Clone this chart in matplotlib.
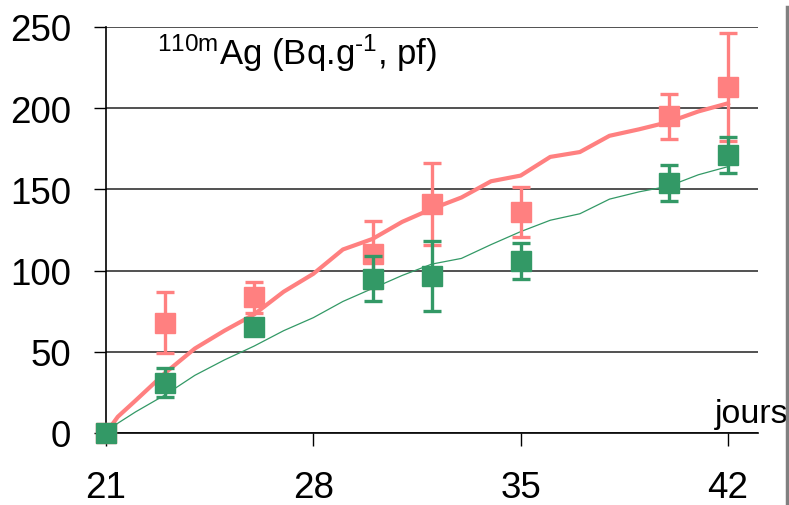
import matplotlib
matplotlib.use("Agg")
import matplotlib.pyplot as plt
from matplotlib.lines import Line2D

plt.rcParams['font.family'] = ['Liberation Sans', 'DejaVu Sans']
plt.rcParams['mathtext.default'] = 'regular'

# mesures (moyenne +/- ecart)
jours_mesure = [21, 23, 26, 30, 32, 35, 40, 42]
ag_rose = [0, 68, 83.5, 110, 141, 136, 195, 213]
err_rose = [0, 19, 9.7, 20.5, 25, 15.5, 14, 33]
ag_vert = [0, 31, 65, 95, 96.5, 106, 154, 171]
err_vert = [0, 9, 4, 14, 21.5, 11, 11, 11]

# courbes du modele
jours_modele = [21, 21.4, 22, 23, 24, 25, 26, 27, 28, 29, 30, 31, 32, 33, 34,
                35, 36, 37, 38, 39, 40, 41, 42]
modele_rose = [0, 10, 20, 37, 52, 63, 73, 87, 98, 113, 119.5, 130, 138, 145,
               155, 158.5, 170, 173, 183, 187, 191.5, 198, 203]
modele_vert = [0, 6, 13, 23.5, 35.5, 45, 53.5, 63, 71, 81, 89, 97, 104, 107.5,
               116, 124, 131, 135, 144, 148.5, 152, 159, 164]

rose = '#FF8080'
vert = '#339966'

fig = plt.figure(figsize=(7.89, 5.06), dpi=100)
ax = fig.add_axes([0.1343, 0.1423, 0.8259, 0.8024])

ax.plot(jours_modele, modele_vert, color=vert, lw=0.9, zorder=3)
ax.plot(jours_modele, modele_rose, color=rose, lw=3, zorder=4)

ax.errorbar(jours_mesure, ag_rose, yerr=err_rose, fmt='s', color=rose,
            ms=14, elinewidth=2.4, capsize=6.5, capthick=2.4,
            clip_on=False, zorder=5)
ax.errorbar(jours_mesure, ag_vert, yerr=err_vert, fmt='s', color=vert,
            ms=14, elinewidth=2.4, capsize=6.5, capthick=2.4,
            clip_on=False, zorder=6)

ax.set_xlim(21, 43)
ax.set_ylim(0, 250)
ax.set_xticks([21, 28, 35, 42])
ax.set_yticks([0, 50, 100, 150, 200, 250])
ax.tick_params(axis='both', direction='out', length=9, width=1,
               labelsize=26.5, color='black')
ax.tick_params(axis='x', pad=18)
ax.tick_params(axis='y', pad=16)

ax.yaxis.grid(True, color='#333333', lw=1.2)
ax.set_axisbelow(True)
for side in ['top', 'right']:
    ax.spines[side].set_visible(False)
for side in ['left', 'bottom']:
    ax.spines[side].set_linewidth(1.2)
    ax.spines[side].set_color('black')

ax.text(0.078, 0.909, '$^{110m}$Ag (Bq.g$^{\u20101}$, pf)', transform=ax.transAxes,
        fontsize=25, ha='left', va='baseline')
ax.text(41.56, 6.8, 'jours', fontsize=24.5, ha='left', va='baseline',
        clip_on=False)

# bord droit du cadre
fig.add_artist(Line2D([0.9975, 0.9975], [0, 0.985], transform=fig.transFigure,
                      color='#808080', lw=2.5))

fig.savefig('out.png', dpi=100)
